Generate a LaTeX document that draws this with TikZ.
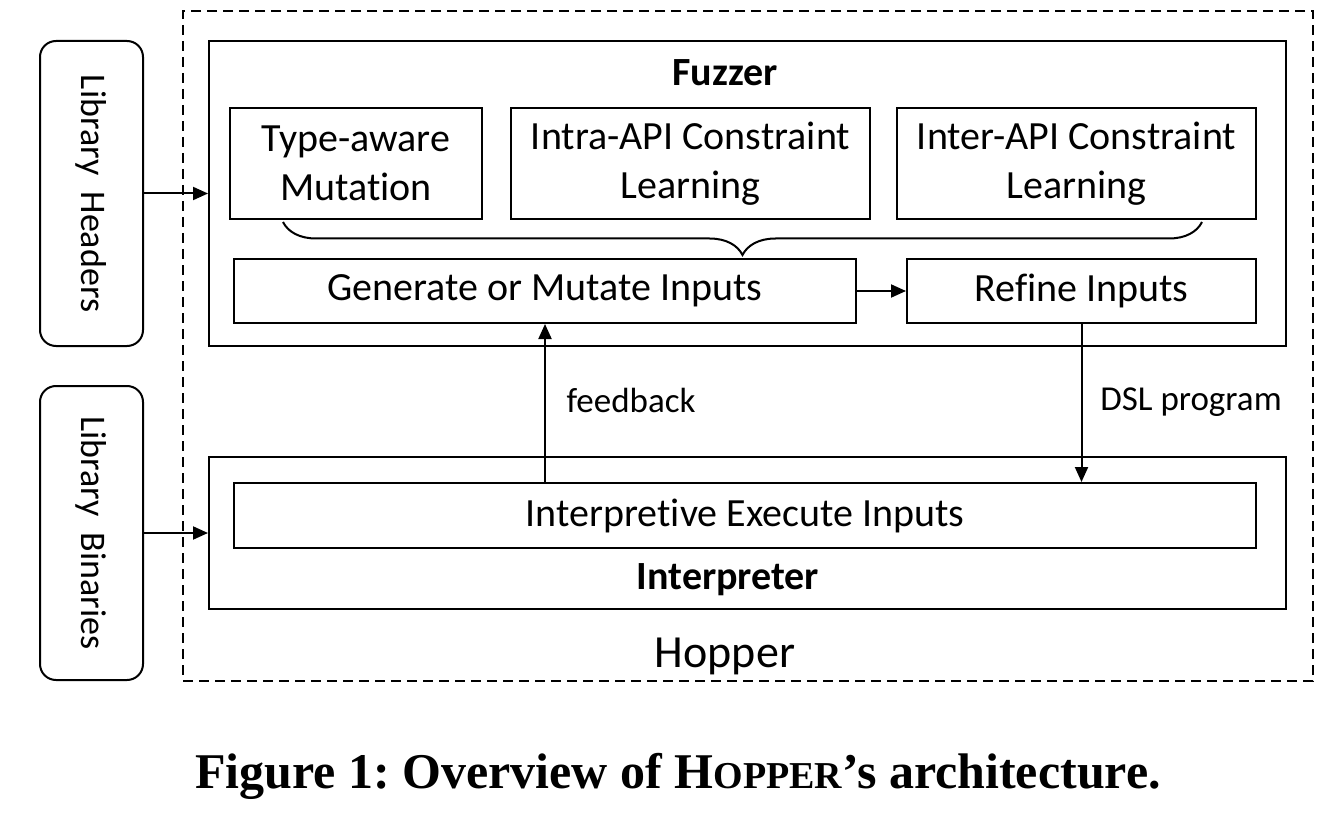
\documentclass[tikz,border=0pt]{standalone}
\usepackage{fontspec}
\setmainfont{Carlito}[Ligatures=NoCommon]
\newfontfamily\capfont{Liberation Serif}
\usetikzlibrary{decorations.pathreplacing,arrows.meta}
\tikzset{
  box/.style={draw,line width=2pt,inner sep=0pt,align=center,font=\fontsize{40}{49}\selectfont},
  lib/.style={box,rounded corners=16pt,minimum width=103pt},
  lbl/.style={inner sep=0pt,font=\fontsize{35}{40}\selectfont},
  ttl/.style={inner sep=0pt,font=\bfseries\fontsize{40}{44}\selectfont},
  arr/.style={-{Triangle[length=15pt,width=13pt]},line width=2pt}
}
\begin{document}
\begin{tikzpicture}[x=1pt,y=-1pt]
\useasboundingbox (0,0) rectangle (1340,818);
% outer frame
\node[draw,dash pattern=on 10pt off 6pt,line width=2pt,minimum width=1130pt,minimum height=670pt] (hop) at (748,346) {};
\node[lbl,font=\fontsize{46}{52}\selectfont] (hoplbl) at (725,656) {Hopper};
% inputs
\node[lib,minimum height=305pt] (hdr) at (91.5,193.5) {\rotatebox{-90}{\fontsize{36}{40}\selectfont Library\ \ Headers}};
\node[lib,minimum height=294pt] (bin) at (91.5,533) {\rotatebox{-90}{\fontsize{36}{40}\selectfont Library\ \ Binaries}};
% fuzzer
\node[box,minimum width=1077pt,minimum height=305pt] (fuz) at (747.5,193.5) {};
\node[ttl] (fuzlbl) at (725,73) {Fuzzer};
\node[box,minimum width=252pt,minimum height=111pt] (typ) at (356,163.5) {Type-aware\\Mutation};
\node[box,minimum width=359pt,minimum height=111pt] (intra) at (690.5,163.5) {Intra-API Constraint\\Learning};
\node[box,minimum width=359pt,minimum height=111pt] (inter) at (1076.5,163.5) {Inter-API Constraint\\Learning};
\coordinate (bl) at (283,222);
\coordinate (br) at (1202,222);
\draw[decorate,decoration={brace,mirror,amplitude=33pt},line width=2pt] (bl) -- (br);
\node[box,minimum width=622pt,minimum height=64pt] (gen) at (545,291) {Generate or Mutate Inputs};
\node[box,minimum width=349pt,minimum height=64pt] (ref) at (1081.5,291) {Refine Inputs};
% interpreter
\node[box,minimum width=1077pt,minimum height=152pt] (int) at (747.5,533) {};
\node[box,minimum width=1022pt,minimum height=65pt] (exe) at (745,515.5) {Interpretive Execute Inputs};
\node[ttl] (intlbl) at (728,580) {Interpreter};
% connectors
\draw[arr] (hdr.east) -- (fuz.west);
\draw[arr] (bin.east) -- (int.west);
\draw[arr] (gen) -- (ref);
\draw[arr] (exe.north -| gen.south) -- (gen.south);
\draw[arr] (ref.south) -- (ref.south |- exe.north);
\node[lbl] (fb) at (631,400) {feedback};
\node[lbl] (dsl) at (1191,402) {DSL program};
% caption
\node[inner sep=0pt,font=\capfont\bfseries\frenchspacing\fontsize{50}{56}\selectfont] (cap) at (678,776)
  {Figure 1: Overview of H{\fontsize{38}{42}\selectfont OPPER}’s architecture.};
\end{tikzpicture}
\end{document}
